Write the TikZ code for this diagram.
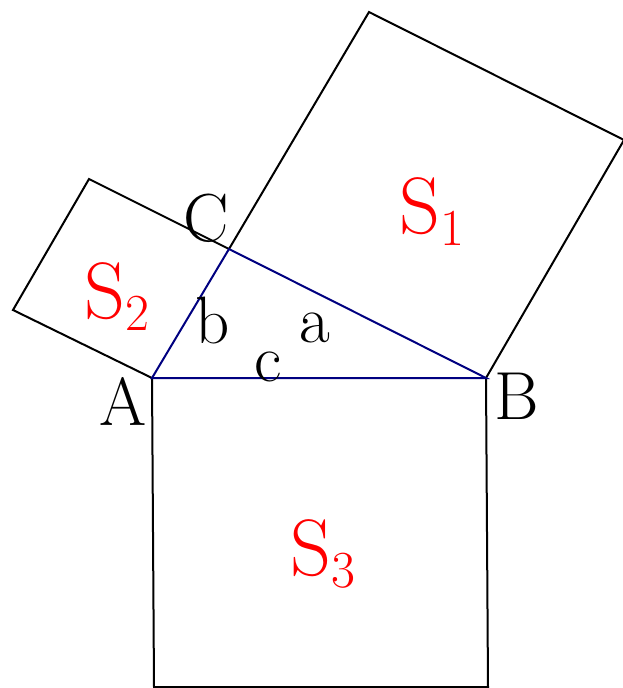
\documentclass[tikz,border=0pt]{standalone}
\usepackage{xcolor}
\usetikzlibrary{positioning}
\definecolor{tribl}{RGB}{0,0,128}
\newcommand{\sqlabel}[2]{S\raisebox{-12pt}{\fontsize{52}{52}\selectfont #2}}

\begin{document}
\begin{tikzpicture}[x=1pt, y=-1pt,
  side/.style={draw=black, line width=2pt, line join=miter},
  tri/.style={draw=tribl, line width=2pt, line join=miter},
  vert/.style={anchor=base west, inner sep=0pt, font=\fontsize{68}{68}\selectfont},
  edge/.style={anchor=base west, inner sep=0pt, font=\fontsize{67}{67}\selectfont},
  area/.style={anchor=base west, inner sep=0pt, text=red, font=\fontsize{80}{80}\selectfont}
]
\useasboundingbox (0,0) rectangle (623,688);
% triangle corners
\coordinate (A) at (152,378);
\coordinate (B) at (486,378);
\coordinate (C) at (229,249);
% outer corners of the squares
\coordinate (s1a) at (369,12);
\coordinate (s1b) at (624,140);
\coordinate (s2a) at (89,179);
\coordinate (s2b) at (13,310);
\coordinate (s3a) at (154,687);
\coordinate (s3b) at (488,687);

% squares
\draw[side] (C) -- (s1a) -- (s1b) -- (B);
\draw[side] (A) -- (s2b) -- (s2a) -- (C);
\draw[side] (A) -- (s3a) -- (s3b) -- (B);
% right triangle
\draw[tri] (A) -- (B) -- (C) -- cycle;

% vertex and side labels
\node[vert] (labA) at (99,425) {A};
\node[vert] (labB) at (494,419) {B};
\node[vert] (labC) at (183,241) {C};
\node[edge] (laba) at (299,342) {a};
\node[edge] (labb) at (195,343) {b};
\node[edge] (labc) at (254,381) {c};

% areas
\node[area] (labS1) at (399,233) {\sqlabel{S}{1}};
\node[area] (labS2) at (84,318) {\sqlabel{S}{2}};
\node[area] (labS3) at (290,575) {\sqlabel{S}{3}};
\end{tikzpicture}
\end{document}
